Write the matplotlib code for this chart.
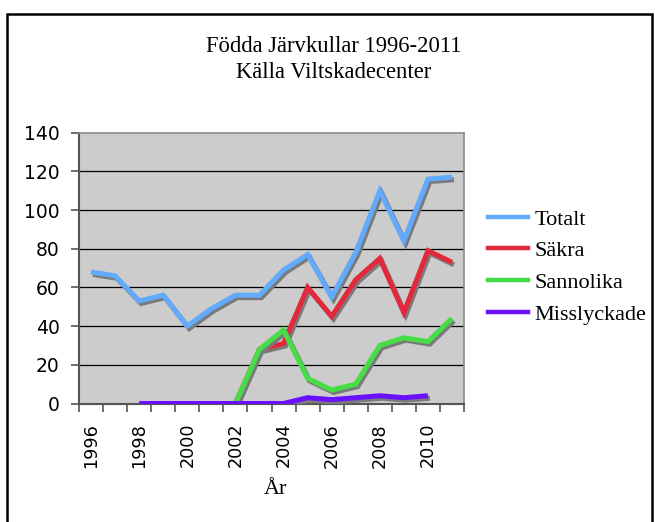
import numpy as np
import matplotlib
matplotlib.use("Agg")
import matplotlib.pyplot as plt
import matplotlib.patheffects as pe
from matplotlib.patches import Rectangle
from matplotlib.lines import Line2D

nan = np.nan
years = list(range(1996, 2012))
totalt = [68, 66, 53, 56, 40, 49, 56, 56, 69, 77, 55, 78, 110, 84, 116, 117]
sakra = [nan] * 6 + [0, 28, 31, 60, 45, 64, 75, 47, 79, 73]
sannolika = [nan] * 6 + [0, 28, 38, 13, 7, 10, 30, 34, 32, 44]
misslyckade = [nan, nan, 0, 0, 0, 0, 0, 0, 0, 3, 2, 3, 4, 3, 4, nan]
series_names = ["Totalt", "Säkra", "Sannolika", "Misslyckade"]
colors = ["#62aafc", "#e2283a", "#47dd47", "#6a10ff"]
title_lines = ["Födda Järvkullar 1996-2011", "Källa Viltskadecenter"]
xlabel = "År"
yticks = [0, 20, 40, 60, 80, 100, 120, 140]

W, H = 655, 522
fig = plt.figure(figsize=(W / 100, H / 100), dpi=100)
fig.patch.set_facecolor("white")

# outer border
fig.add_artist(Rectangle((7 / W, -0.02), (652 - 7) / W, 1.02 - 14 / H,
                         transform=fig.transFigure, fill=False,
                         edgecolor="black", linewidth=1.8, zorder=0))

ax = fig.add_axes([79 / W, 1 - 403.5 / H, (464 - 79) / W, (403.5 - 132.7) / H])
ax.set_facecolor("#cccccc")

x = np.arange(len(years))
data = [totalt, sakra, sannolika, misslyckade]
for vals, c, name in zip(data, colors, series_names):
    ax.plot(x, vals, color=c, linewidth=3.6, solid_joinstyle="miter",
            solid_capstyle="butt", label=name, zorder=3,
            path_effects=[pe.SimpleLineShadow(offset=(1.4, -1.8),
                                              shadow_color="#7a7a7a", alpha=1.0),
                          pe.Normal()])

ax.set_xlim(-0.5, len(years) - 0.5)
ax.set_ylim(0, 140)
ax.set_yticks(yticks)
ax.set_yticklabels([str(v) for v in yticks], fontsize=13.5, family="DejaVu Sans")
for yv in yticks[1:-1]:
    ax.axhline(yv, color="black", linewidth=0.9, zorder=1)

# category boundary ticks
ax.set_xticks(np.arange(len(years) + 1) - 0.5)
ax.set_xticklabels([])
ax.set_xticks(x[::2], minor=True)
ax.set_xticklabels([str(y) for y in years[::2]], minor=True, rotation=90,
                   fontsize=12.7, family="DejaVu Sans")
ax.tick_params(axis="x", which="minor", length=0, pad=14)
ax.tick_params(axis="x", which="major", length=6, width=1.2, color="#555555", direction="out")
ax.tick_params(axis="y", length=6, width=1.2, color="#555555", pad=8)

for s in ["top", "right"]:
    ax.spines[s].set_color("#8a8a8a")
    ax.spines[s].set_linewidth(1.2)
for s in ["left", "bottom"]:
    ax.spines[s].set_color("#555555")
    ax.spines[s].set_linewidth(1.5)

fig.text(275 / W, 1 - 490 / H, xlabel, ha="center", va="center",
         fontsize=16, family="Liberation Serif")
fig.text(334 / W, 1 - 47 / H, title_lines[0], ha="center", va="center",
         fontsize=16.3, family="Liberation Serif")
fig.text(334 / W, 1 - 73 / H, title_lines[1], ha="center", va="center",
         fontsize=16.3, family="Liberation Serif")

handles = [Line2D([], [], color=c, linewidth=3.2) for c in colors]
leg = fig.legend(handles, series_names, loc="upper left",
                 bbox_to_anchor=(488 / W, 1 - 209 / H), frameon=False,
                 prop={"family": "Liberation Serif", "size": 16},
                 handlelength=1.8, handletextpad=0.28, labelspacing=0.5,
                 borderaxespad=0, borderpad=0)

fig.savefig("out.png", dpi=100)
